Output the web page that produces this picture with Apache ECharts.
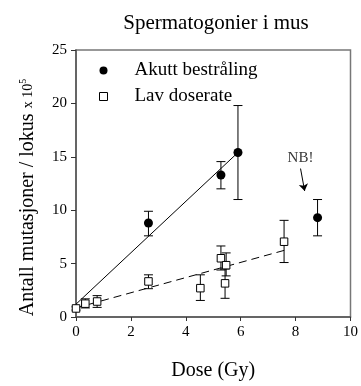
<!DOCTYPE html>
<html><head><meta charset="utf-8">
<script src="https://cdn.jsdelivr.net/npm/echarts@6/dist/echarts.min.js"></script>
<style>html,body{margin:0;padding:0;background:#fff}#c{width:361px;height:386px}</style>
</head><body><div id="c"></div>
<script>
// Akutt bestråling: [dose, value, low, high]
const akuttX = [2.64, 5.28, 5.9, 8.8];
const akuttY = [8.8, 13.3, 15.4, 9.3];
const akuttLow = [7.6, 12.0, 11.0, 7.6];
const akuttHigh = [9.9, 14.55, 19.8, 11.0];
// Lav doserate
const lavX = [0, 0.34, 0.77, 2.64, 4.53, 5.28, 5.47, 5.43, 7.58];
const lavY = [0.8, 1.25, 1.45, 3.33, 2.7, 5.5, 4.85, 3.15, 7.05];
const lavLow = [0.65, 0.85, 0.9, 2.65, 1.55, 4.4, 3.85, 1.75, 5.1];
const lavHigh = [0.95, 1.7, 2.0, 3.95, 3.95, 6.65, 6.0, 4.5, 9.05];
// Fitted lines (endpoints)
const akuttFitX = [0, 5.9];
const akuttFitY = [1.2, 15.4];
const lavFitX = [0, 7.6];
const lavFitY = [0.85, 6.25];
// Annotation
const nbText = [8.18, 14.9];
const nbArrowFrom = [8.18, 13.9];
const nbArrowTo = [8.33, 11.8];
const xTicks = [0, 2, 4, 6, 8, 10];
const yTicks = [0, 5, 10, 15, 20, 25];

const F = '"Liberation Serif", "Times New Roman", serif';
const zip = (a, b) => a.map((v, i) => [v, b[i]]);
const errData = (x, lo, hi) => x.map((v, i) => [v, lo[i], hi[i]]);

function errRender(params, api) {
  const x = api.value(0), lo = api.value(1), hi = api.value(2);
  const pLo = api.coord([x, lo]), pHi = api.coord([x, hi]);
  const w = 4.5;
  const st = { stroke: '#000', lineWidth: 1 };
  return { type: 'group', children: [
    { type: 'line', shape: { x1: pLo[0], y1: pLo[1], x2: pHi[0], y2: pHi[1] }, style: st },
    { type: 'line', shape: { x1: pLo[0]-w, y1: pLo[1], x2: pLo[0]+w, y2: pLo[1] }, style: st },
    { type: 'line', shape: { x1: pHi[0]-w, y1: pHi[1], x2: pHi[0]+w, y2: pHi[1] }, style: st }
  ]};
}

const chart = echarts.init(document.getElementById('c'), null, { renderer: 'canvas' });
chart.setOption({
  animation: false,
  title: { text: 'Spermatogonier i mus', left: 211, textAlign: 'center', top: 8,
    textStyle: { fontFamily: F, fontSize: 21, fontWeight: 'normal', color: '#000' } },
  grid: { left: 76, right: 7, top: 50, bottom: 65, show: true, borderColor: '#777', borderWidth: 1.5 },
  legend: {
    orient: 'vertical', left: 94, top: 56, itemGap: 7, itemWidth: 8, itemHeight: 8,
    data: [
      { name: 'Akutt bestråling', icon: 'circle', itemStyle: { color: '#000' } },
      { name: 'Lav doserate', icon: 'rect', itemStyle: { color: '#fff', borderColor: '#000', borderWidth: 1 } }
    ],
    textStyle: { fontFamily: F, fontSize: 19, color: '#000', padding: [0, 0, 0, 22] }
  },
  xAxis: {
    type: 'value', min: 0, max: 10, interval: 2,
    name: 'Dose (Gy)', nameLocation: 'middle', nameGap: 44,
    nameTextStyle: { fontFamily: F, fontSize: 20, color: '#000' },
    axisLine: { lineStyle: { color: '#555', width: 1.5 } },
    axisTick: { length: 4, lineStyle: { color: '#333' } },
    axisLabel: { fontFamily: F, fontSize: 15, color: '#000', margin: 8,
      formatter: v => xTicks.includes(v) ? String(v) : '' },
    splitLine: { show: false }
  },
  yAxis: {
    type: 'value', min: 0, max: 25, interval: 5,
    name: '{a|Antall mutasjoner / lokus }{b|x 10}{c|5}', nameLocation: 'middle', nameGap: 38,
    nameTextStyle: { fontFamily: F, fontSize: 20, color: '#000', padding: [0, 28, 0, 0],
      rich: {
        a: { fontFamily: F, fontSize: 20, color: '#000' },
        b: { fontFamily: F, fontSize: 14, color: '#000' },
        c: { fontFamily: F, fontSize: 10, color: '#000', verticalAlign: 'top', padding: [0, 0, 10, 0] }
      } },
    axisLine: { show: true, lineStyle: { color: '#555', width: 1.5 } },
    axisTick: { show: true, length: 5, lineStyle: { color: '#333' } },
    axisLabel: { fontFamily: F, fontSize: 15, color: '#000', margin: 9,
      formatter: v => yTicks.includes(v) ? String(v) : '' },
    splitLine: { show: false }
  },
  series: [
    { type: 'line', data: zip(akuttFitX, akuttFitY), symbol: 'none', silent: true,
      lineStyle: { color: '#000', width: 1 }, z: 1 },
    { type: 'line', data: zip(lavFitX, lavFitY), symbol: 'none', silent: true,
      lineStyle: { color: '#000', width: 1, type: [8, 5] }, z: 1 },
    { type: 'custom', renderItem: errRender, data: errData(akuttX, akuttLow, akuttHigh), z: 2 },
    { type: 'custom', renderItem: errRender, data: errData(lavX, lavLow, lavHigh), z: 2 },
    { name: 'Akutt bestråling', type: 'scatter', data: zip(akuttX, akuttY), symbol: 'circle', symbolSize: 9,
      itemStyle: { color: '#000', opacity: 1 }, z: 3 },
    { name: 'Lav doserate', type: 'scatter', data: zip(lavX, lavY), symbol: 'rect', symbolSize: 7.5,
      itemStyle: { color: '#fff', borderColor: '#000', borderWidth: 1, opacity: 1 }, z: 3 },
    { type: 'scatter', data: [nbText], symbolSize: 0, silent: true,
      label: { show: true, position: 'inside', formatter: 'NB!', fontFamily: F, fontSize: 15, color: '#000' },
      markLine: { silent: true, symbol: ['none', 'arrow'], symbolSize: 7,
        lineStyle: { color: '#000', width: 1, type: 'solid' }, label: { show: false },
        data: [[{ coord: nbArrowFrom }, { coord: nbArrowTo }]] } }
  ]
});
</script></body></html>
